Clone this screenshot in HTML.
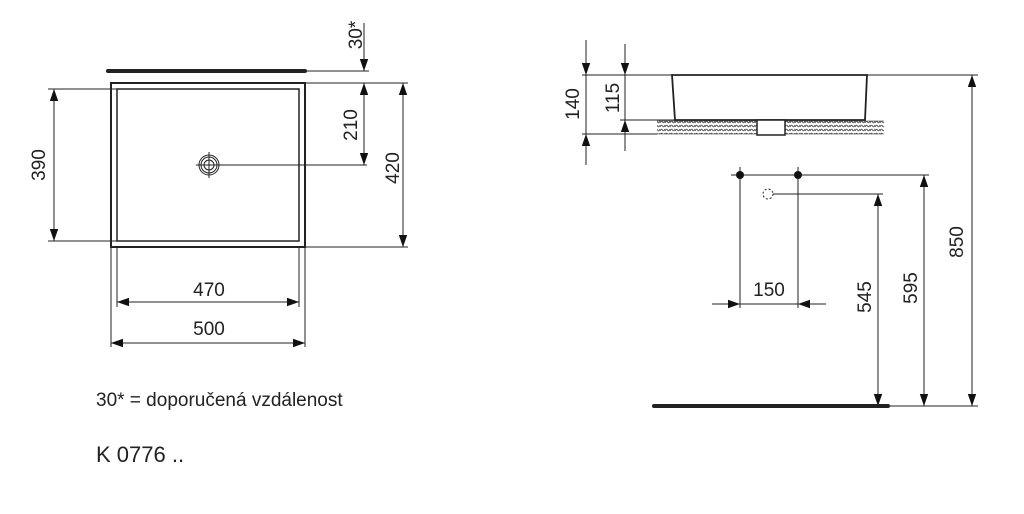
<!DOCTYPE html>
<html><head><style>html,body{margin:0;padding:0;background:#fff}svg{display:block}</style></head><body>
<svg width="1024" height="514" viewBox="0 0 1024 514" xmlns="http://www.w3.org/2000/svg" font-family="Liberation Sans, Arial, sans-serif" fill="#222">
<defs>
<marker id="a" viewBox="0 0 10 10" refX="10" refY="5" markerWidth="12" markerHeight="12" markerUnits="userSpaceOnUse" orient="auto-start-reverse"><path d="M0,1.5L10,5L0,8.5z" fill="#111"/></marker>
<pattern id="h" width="5" height="4" patternUnits="userSpaceOnUse"><path d="M0,3 Q1.2,0 2.5,2 T5,1" stroke="#444" fill="none" stroke-width="0.9"/></pattern>
</defs>
<g stroke="#222" stroke-width="1" fill="none">
<line x1="108" y1="71" x2="305" y2="71" stroke-width="4" stroke-linecap="round"/>
<line x1="305" y1="71" x2="369" y2="71"/>
<rect x="111" y="83" width="194" height="164" stroke-width="2"/>
<rect x="117" y="89" width="182" height="152" stroke-width="1.5"/>
<circle cx="209" cy="165" r="10"/><circle cx="209" cy="165" r="8"/><circle cx="209" cy="165" r="5"/>
<line x1="209" y1="152" x2="209" y2="178"/><line x1="196" y1="165" x2="367" y2="165"/>
<line x1="364" y1="23" x2="364" y2="71" marker-end="url(#a)"/>
<line x1="364" y1="83" x2="364" y2="165" marker-start="url(#a)" marker-end="url(#a)"/>
<line x1="305" y1="83" x2="408" y2="83"/><line x1="305" y1="247" x2="408" y2="247"/>
<line x1="403" y1="83" x2="403" y2="247" marker-start="url(#a)" marker-end="url(#a)"/>
<line x1="48" y1="89" x2="117" y2="89"/><line x1="48" y1="241" x2="117" y2="241"/>
<line x1="54" y1="89" x2="54" y2="241" marker-start="url(#a)" marker-end="url(#a)"/>
<line x1="117" y1="247" x2="117" y2="307"/><line x1="299" y1="247" x2="299" y2="307"/>
<line x1="117" y1="302" x2="299" y2="302" marker-start="url(#a)" marker-end="url(#a)"/>
<line x1="111" y1="247" x2="111" y2="347"/><line x1="305" y1="247" x2="305" y2="347"/>
<line x1="111" y1="343" x2="305" y2="343" marker-start="url(#a)" marker-end="url(#a)"/>
<line x1="582" y1="75" x2="978" y2="75"/>
<path d="M672,75 L867,75 L865,120 L675,120 Z" stroke-width="1.8"/>
<rect x="657" y="121" width="227" height="13" fill="url(#h)" stroke="none"/>
<line x1="657" y1="121" x2="884" y2="121" stroke-width="0.6"/>
<line x1="657" y1="134" x2="884" y2="134" stroke-width="0.6"/>
<rect x="757" y="120" width="28" height="15" fill="#fff" stroke-width="1.5"/>
<line x1="582" y1="134" x2="657" y2="134"/><line x1="620" y1="120" x2="675" y2="120"/>
<line x1="586" y1="40" x2="586" y2="75" marker-end="url(#a)"/>
<line x1="586" y1="165" x2="586" y2="134" marker-end="url(#a)"/>
<line x1="586" y1="75" x2="586" y2="134"/>
<line x1="625" y1="44" x2="625" y2="75" marker-end="url(#a)"/>
<line x1="625" y1="151" x2="625" y2="120" marker-end="url(#a)"/>
<line x1="625" y1="75" x2="625" y2="120"/>
<line x1="972" y1="75" x2="972" y2="406" marker-start="url(#a)" marker-end="url(#a)"/>
<line x1="731" y1="175" x2="929" y2="175"/>
<line x1="773" y1="194" x2="883" y2="194"/>
<circle cx="768" cy="194" r="5" stroke-dasharray="2,2"/>
<line x1="740" y1="167" x2="740" y2="308"/><line x1="798" y1="167" x2="798" y2="308"/>
<line x1="712" y1="304" x2="740" y2="304" marker-end="url(#a)"/>
<line x1="826" y1="304" x2="798" y2="304" marker-end="url(#a)"/>
<line x1="740" y1="304" x2="798" y2="304"/>
<line x1="878" y1="194" x2="878" y2="406" marker-start="url(#a)" marker-end="url(#a)"/>
<line x1="924" y1="175" x2="924" y2="406" marker-start="url(#a)" marker-end="url(#a)"/>
<line x1="654" y1="406" x2="888" y2="406" stroke-width="4" stroke-linecap="round"/>
<line x1="888" y1="406" x2="978" y2="406"/>
</g>
<circle cx="740" cy="175" r="4" fill="#111"/><circle cx="798" cy="175" r="4" fill="#111"/>
<g font-size="19" text-anchor="middle">
<text x="209" y="296">470</text><text x="209" y="335">500</text>
<text transform="translate(362,35) rotate(-90)">30*</text>
<text transform="translate(357,125) rotate(-90)">210</text>
<text transform="translate(399,168) rotate(-90)">420</text>
<text transform="translate(45,165) rotate(-90)">390</text>
<text transform="translate(579,104) rotate(-90)">140</text>
<text transform="translate(619,98) rotate(-90)">115</text>
<text x="769" y="296">150</text>
<text transform="translate(871,297) rotate(-90)">545</text>
<text transform="translate(917,288) rotate(-90)">595</text>
<text transform="translate(963,242) rotate(-90)">850</text>
</g>
<text x="96" y="406" font-size="19">30* = doporučená vzdálenost</text>
<text x="96" y="462" font-size="22">K 0776 ..</text>
</svg>
</body></html>
